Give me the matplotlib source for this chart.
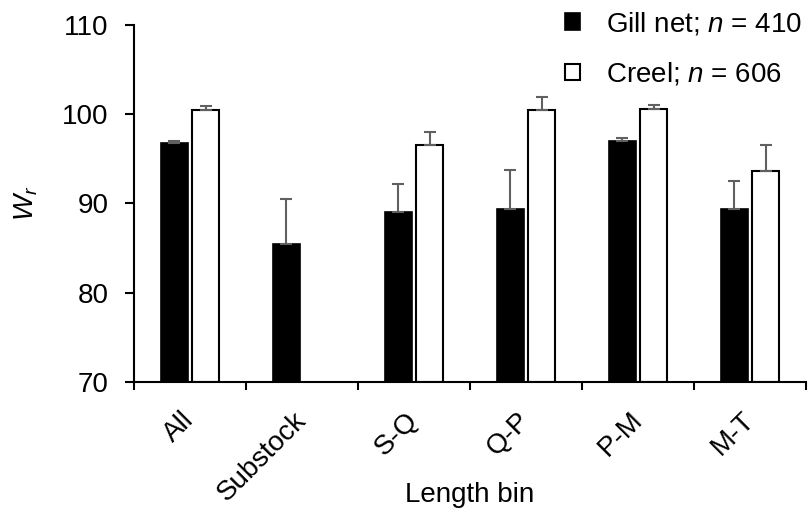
import matplotlib.pyplot as plt
import numpy as np

plt.rcParams['font.family'] = ['Liberation Sans', 'DejaVu Sans']
plt.rcParams['mathtext.fontset'] = 'custom'
plt.rcParams['mathtext.rm'] = 'Liberation Sans'
plt.rcParams['mathtext.it'] = 'Liberation Sans:italic'

bins = ['All', 'Substock', 'S-Q', 'Q-P', 'P-M', 'M-T']
gill = [96.8, 85.4, 89.0, 89.4, 97.0, 89.4]
gill_err = [0.2, 5.1, 3.2, 4.3, 0.3, 3.1]
creel = [100.5, np.nan, 96.5, 100.4, 100.6, 93.6]
creel_err = [0.4, np.nan, 1.5, 1.5, 0.4, 2.9]

x = np.arange(len(bins))
w = 0.24
off = 0.142
fs = 20

fig = plt.figure(figsize=(8.08, 5.12), dpi=100)
ax = fig.add_axes([0.1658, 0.2539, 0.8317, 0.6979])

ekw = dict(ecolor='#606060', elinewidth=1.5, capsize=4.5, capthick=1.5)
zeros = np.zeros(len(bins))
b1 = ax.bar(x - off, np.array(gill) - 70, w, bottom=70, color='black',
            edgecolor='black', linewidth=1.2,
            yerr=[zeros, gill_err], error_kw=ekw,
            label='Gill net; $n$ = 410')
b2 = ax.bar(x + off, np.array(creel) - 70, w, bottom=70, color='white',
            edgecolor='black', linewidth=1.5,
            yerr=[zeros, creel_err], error_kw=ekw,
            label='Creel; $n$ = 606')

ax.set_ylim(70, 110)
ax.set_xlim(-0.5, len(bins) - 0.5)
ax.set_yticks([70, 80, 90, 100, 110])
# major ticks are hidden; they only carry the rotated labels, set a bit left
ax.set_xticks(x - 0.08)
ax.set_xticklabels(bins, rotation=45, ha='right', rotation_mode='anchor',
                   fontsize=fs)
ax.set_xticks(np.arange(len(bins) + 1) - 0.5, minor=True)
ax.tick_params(axis='x', which='major', length=0, pad=18)
ax.tick_params(axis='x', which='minor', length=6, width=1.5, direction='out')
ax.tick_params(axis='y', length=6.5, width=1.5, labelsize=fs, pad=12)
for s in ['top', 'right']:
    ax.spines[s].set_visible(False)
for s in ['left', 'bottom']:
    ax.spines[s].set_linewidth(1.5)

ax.set_ylabel('$W_r$', fontsize=fs, labelpad=16)
ax.set_xlabel('Length bin', fontsize=fs)
ax.xaxis.set_label_coords(0.5, -0.28)

fig.legend(handles=[b1, b2], loc='upper left', bbox_to_anchor=(0.699, 0.98),
           frameon=False, fontsize=fs, handlelength=0.55, handleheight=0.55,
           labelspacing=0.85, handletextpad=0.95, borderpad=0,
           borderaxespad=0)

fig.savefig('out.png', dpi=100)
